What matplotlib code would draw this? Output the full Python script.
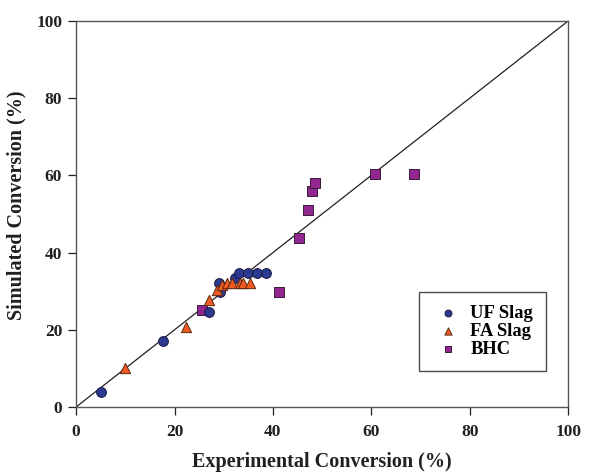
import matplotlib
matplotlib.use("Agg")
import matplotlib.pyplot as plt

uf_x = [5, 17.7, 27, 29.3, 29, 32.3, 33.2, 35, 36.7, 38.5]
uf_y = [4, 17, 24.6, 29.8, 32, 33.3, 34.6, 34.6, 34.6, 34.6]

fa_x = [10, 22.3, 27, 28.6, 29.7, 30.6, 31.6, 33.3, 34.0, 35.3]
fa_y = [10, 20.8, 27.7, 30.2, 31.6, 32, 32, 32, 32, 32]

bhc_x = [25.6, 41.3, 45.3, 47.1, 47.9, 48.6, 60.8, 68.6]
bhc_y = [25.1, 29.9, 43.9, 51, 56, 58, 60.3, 60.3]

xticks = [0, 20, 40, 60, 80, 100]
yticks = [0, 20, 40, 60, 80, 100]

plt.rcParams['font.family'] = ['Liberation Serif', 'DejaVu Serif']
fig = plt.figure(figsize=(5.9, 4.72), dpi=100)
ax = fig.add_axes([0.129, 0.1377, 0.834, 0.818])

ax.plot([0, 100], [0, 100], color='#231f20', lw=0.9, zorder=1)

ax.scatter(uf_x, uf_y, s=50, marker='o', color='#2b3990', edgecolors='#1a1a40', linewidths=0.7, label='UF Slag', zorder=3)
ax.scatter(fa_x, fa_y, s=55, marker='^', color='#f15a22', edgecolors='#5a2a10', linewidths=0.7, label='FA Slag', zorder=4)
ax.scatter(bhc_x, bhc_y, s=45, marker='s', color='#92278f', edgecolors='#3a1a3a', linewidths=0.7, label='BHC', zorder=2)

ax.set_xlim(0, 100)
ax.set_ylim(0, 100)
ax.set_xticks(xticks)
ax.set_yticks(yticks)
ax.tick_params(direction='out', length=6, width=0.9, colors='#231f20', labelsize=12.5, pad=4)
ax.tick_params(axis='x', pad=6)
for lbl in ax.get_xticklabels() + ax.get_yticklabels():
    lbl.set_fontweight('bold')
for sp in ax.spines.values():
    sp.set_color('#555555')
    sp.set_linewidth(1.0)

ax.set_xlabel('Experimental Conversion (%)', fontsize=14.5, fontweight='bold', color='#231f20', labelpad=9)
ax.set_ylabel('Simulated Conversion (%)', fontsize=14.5, fontweight='bold', color='#231f20')
ax.yaxis.set_label_coords(-0.1, 0.523)

leg = ax.legend(loc='lower right', bbox_to_anchor=(0.955, 0.094), borderaxespad=0, frameon=True, fancybox=False,
                prop={'weight': 'bold', 'size': 13.3}, markerscale=0.7, handletextpad=0.35,
                borderpad=0.7, labelspacing=0.05, handlelength=1.75)
leg.get_frame().set_edgecolor('#231f20')
leg.get_frame().set_linewidth(1.0)

fig.savefig('out.png', dpi=100)
